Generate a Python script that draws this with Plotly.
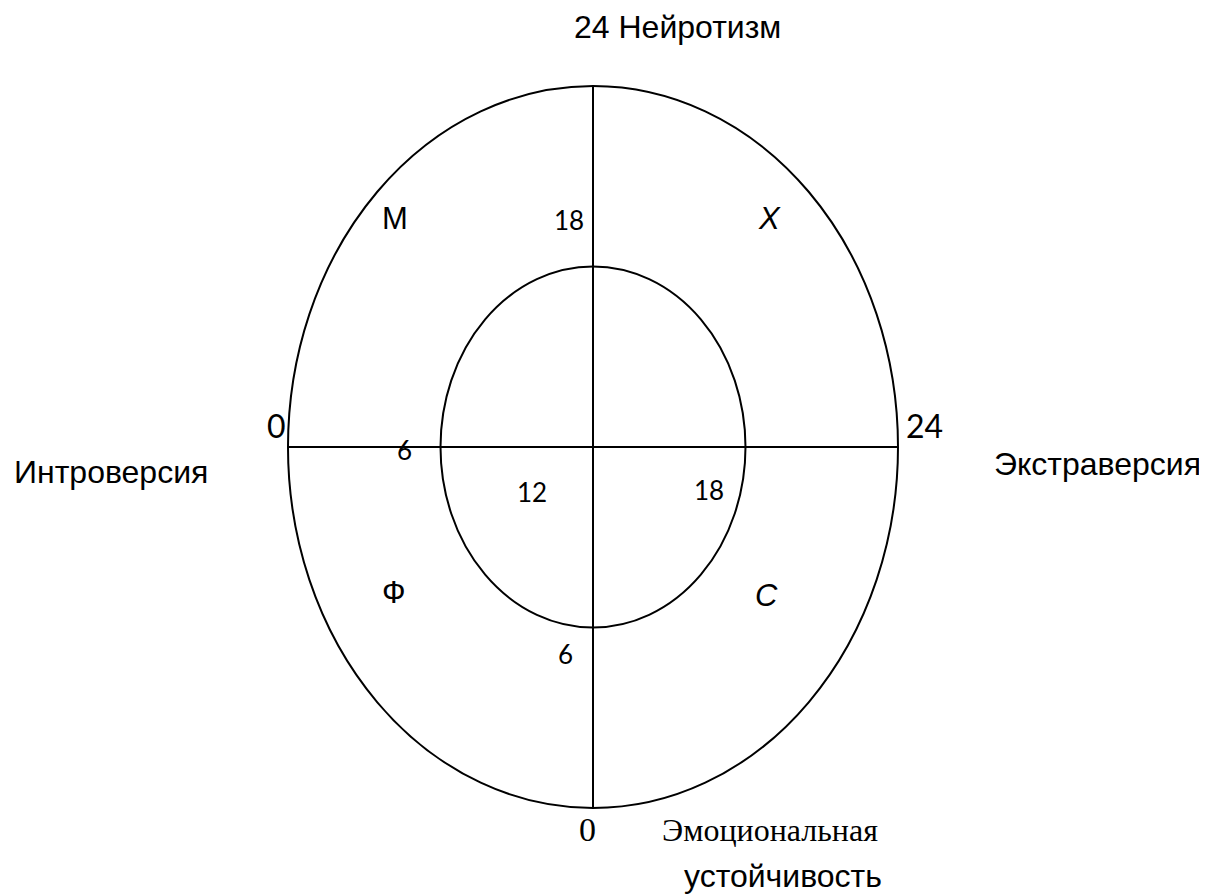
import numpy as np
import plotly.graph_objects as go

# ---- data ----
scale_min = 0
scale_max = 24
scale_mid = 12
inner_low = 6
inner_high = 18

axis_titles = ["24 Нейротизм", "Интроверсия", "Экстраверсия"]
stability_title = ["Эмоциональная", "устойчивость"]
quadrant_letters = ["М", "Х", "Ф", "С"]   # melancholic, choleric, phlegmatic, sanguine
scale_labels_big = ["0", "24"]
scale_labels_small = ["18", "6", "12", "18", "6"]

# ---- figure ----
# the page body has an 8px margin, so the figure is 8px smaller each way
W, H = 1199, 888
fig = go.Figure()

line_style = dict(color="black", width=2)

# outer and inner ellipses
fig.add_shape(type="circle", xref="x", yref="y",
              x0=scale_min, x1=scale_max, y0=scale_min, y1=scale_max,
              line=line_style)
fig.add_shape(type="circle", xref="x", yref="y",
              x0=inner_low, x1=inner_high, y0=inner_low, y1=inner_high,
              line=line_style)
# cross axes
fig.add_trace(go.Scatter(x=[scale_mid, scale_mid], y=[scale_min, scale_max],
                         mode="lines", line=line_style, hoverinfo="skip",
                         showlegend=False))
fig.add_trace(go.Scatter(x=[scale_min, scale_max], y=[scale_mid, scale_mid],
                         mode="lines", line=line_style, hoverinfo="skip",
                         showlegend=False))

ARIAL = "Liberation Sans, Arial, sans-serif"
CALIB = "Lato, Open Sans, sans-serif"
TIMES = "Liberation Serif, Times New Roman, serif"


def txt(x, y, s, size, family, italic=False):
    fig.add_annotation(x=x, y=y, xref="x", yref="y", text=s, showarrow=False,
                       xanchor="center", yanchor="middle", borderpad=0,
                       font=dict(size=size, family=family, color="black",
                                 style="italic" if italic else "normal"))


# axis titles
txt(15.34, 25.95, axis_titles[0], 32, ARIAL)
txt(-6.96, 11.17, axis_titles[1], 32, ARIAL)
txt(31.83, 11.43, axis_titles[2], 32, ARIAL)
txt(18.96, -0.73, stability_title[0], 32, TIMES)
txt(19.48, -2.25, stability_title[1], 32, ARIAL)

# quadrant letters
txt(4.21, 19.61, quadrant_letters[0], 31, ARIAL)
txt(18.96, 19.61, quadrant_letters[1], 31, ARIAL, italic=True)
txt(4.19, 7.15, quadrant_letters[2], 31, ARIAL)
txt(18.81, 7.08, quadrant_letters[3], 31, ARIAL, italic=True)

# scale numbers
txt(-0.47, 12.70, scale_labels_big[0], 32, CALIB)
txt(25.06, 12.73, scale_labels_big[1], 32, CALIB)
txt(11.80, -0.73, scale_labels_big[0], 34, TIMES)
txt(11.06, 19.55, scale_labels_small[0], 26, CALIB)
txt(4.58, 11.90, scale_labels_small[1], 26, CALIB)
txt(9.60, 10.50, scale_labels_small[2], 26, CALIB)
txt(16.58, 10.57, scale_labels_small[3], 26, CALIB)
txt(10.92, 5.12, scale_labels_small[4], 26, CALIB)

fig.update_xaxes(range=[-11.016, 36.157], visible=False, fixedrange=True)
fig.update_yaxes(range=[-2.925, 26.593], visible=False, fixedrange=True)
fig.update_layout(width=W, height=H, autosize=False,
                  margin=dict(l=0, r=0, t=0, b=0),
                  paper_bgcolor="white", plot_bgcolor="white",
                  showlegend=False)

fig.write_html("out.html")
